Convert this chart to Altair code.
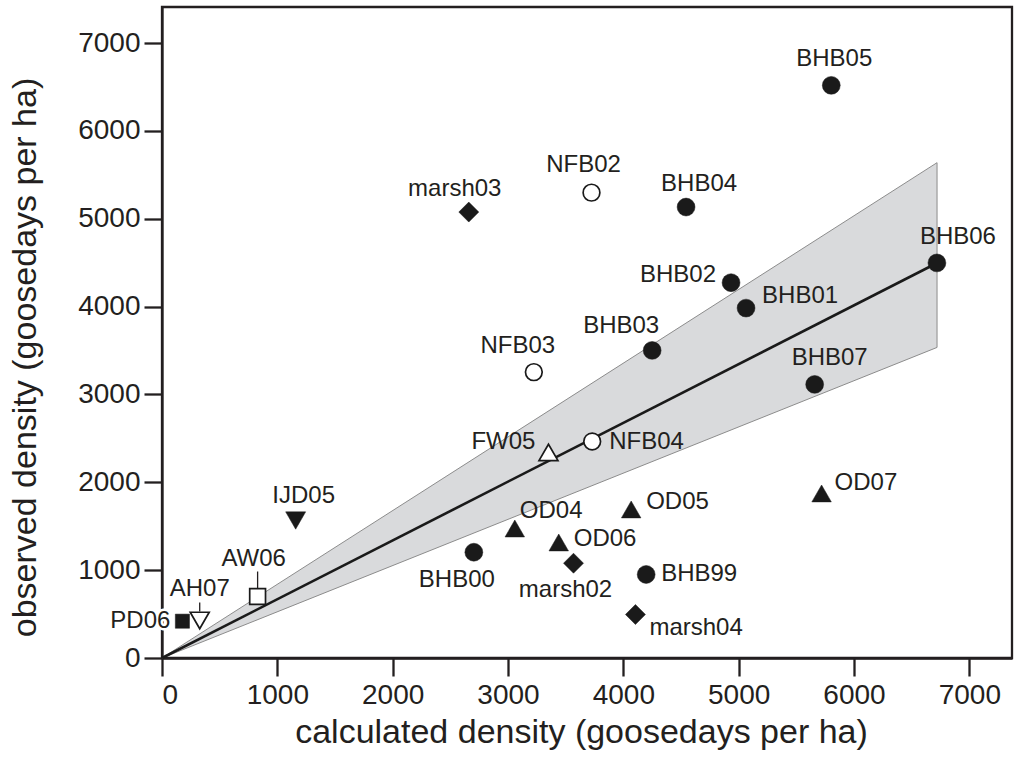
import altair as alt
import pandas as pd

# Sites: calculated vs observed goose grazing density (goosedays per ha)
sites = ["BHB99", "BHB00", "BHB01", "BHB02", "BHB03", "BHB04", "BHB05", "BHB06", "BHB07",
         "NFB02", "NFB03", "NFB04",
         "marsh02", "marsh03", "marsh04",
         "OD04", "OD05", "OD06", "OD07",
         "FW05", "IJD05", "AW06", "AH07", "PD06"]
groups = ["BHB"] * 9 + ["NFB"] * 3 + ["marsh"] * 3 + ["OD"] * 4 + ["FW", "IJD", "AW", "AH", "PD"]
calculated = [4198, 2704, 5064, 4934, 4250, 4544, 5803, 6719, 5659,
              3724, 3224, 3730,
              3568, 2660, 4105,
              3059, 4068, 3440, 5719,
              3351, 1159, 829, 327, 177]
observed = [951, 1204, 3983, 4272, 3501, 5133, 6518, 4497, 3114,
            5297, 3254, 2465,
            1079, 5076, 495,
            1474, 1691, 1315, 1873,
            2340, 1565, 700, 427, 419]

# Regression through the origin with its confidence band
fit_x = [0, 6720]
fit_y = [0, 4496]
band_lo = [0, 3535]
band_hi = [0, 5638]

tick_values = [0, 1000, 2000, 3000, 4000, 5000, 6000, 7000]

pts = pd.DataFrame({"site": sites, "group": groups, "calc": calculated, "obs": observed})
fit = pd.DataFrame({"calc": fit_x, "obs": fit_y, "lo": band_lo, "hi": band_hi})

INK = "#231f20"
FONT = "Liberation Sans"

xs = alt.Scale(domain=[0, 7370], nice=False, zero=True)
ys = alt.Scale(domain=[0, 7410], nice=False, zero=True)

X = alt.X("calc:Q", scale=xs, title="calculated density (goosedays per ha)",
          axis=alt.Axis(values=tick_values, format="d",
                        labelPadding=5, titleX=419, titleY=74,
                        titleBaseline="middle", titleAlign="center"))
Y = alt.Y("obs:Q", scale=ys, title="observed density (goosedays per ha)",
          axis=alt.Axis(values=tick_values, format="d",
                        labelPadding=4, titleX=-137, titleY=350, titleAngle=270,
                        titleBaseline="middle", titleAlign="center"))

band = alt.Chart(fit).mark_area(color="#d9dadc", stroke="#8c8c8c", strokeWidth=1).encode(
    x=X, y=alt.Y("lo:Q", scale=ys), y2="hi:Q")
line = alt.Chart(fit).mark_line(color="#1a1a1a", strokeWidth=2.6).encode(x=X, y=Y)

# marker style per site group: shape, filled, size
styles = {
    "BHB": ("circle", True, 320),
    "NFB": ("circle", False, 280),
    "marsh": ("diamond", True, 400),
    "OD": ("triangle-up", True, 380),
    "FW": ("triangle-up", False, 360),
    "IJD": ("triangle-down", True, 400),
    "AW": ("square", False, 250),
    "AH": ("triangle-down", False, 360),
    "PD": ("square", True, 200),
}

layers = [band, line]

# leader ticks from label to marker
for name, off1, off2 in [("AW06", -8, -25), ("AH07", -9, -18)]:
    layers.append(
        alt.Chart(pts).transform_filter(alt.datum.site == name)
        .mark_rule(color=INK, strokeWidth=1.3, yOffset=off1, y2Offset=off2)
        .encode(x=X, y=Y, y2="obs:Q"))

for g, (shape, filled, size) in styles.items():
    if filled:
        mk = alt.Chart(pts).mark_point(shape=shape, filled=True, size=size, fill="#1a1a1a",
                                       stroke="#1a1a1a", strokeWidth=0.5, opacity=1)
    else:
        mk = alt.Chart(pts).mark_point(shape=shape, filled=False, size=size, fill="white",
                                       fillOpacity=1, stroke="#1a1a1a", strokeWidth=1.7, opacity=1)
    layers.append(mk.transform_filter(alt.datum.group == g).encode(x=X, y=Y))

# label placement: align, dx, dy (pixels)
label_pos = {
    "BHB05": ("center", 3, -26), "BHB04": ("center", 13, -23), "NFB02": ("center", -8, -28),
    "marsh03": ("center", -14, -23), "BHB06": ("center", 21, -26), "BHB02": ("right", -15, -8),
    "BHB01": ("left", 16, -12), "BHB03": ("center", -31, -24), "NFB03": ("center", -16, -26),
    "BHB07": ("center", 15, -26), "NFB04": ("left", 17, 1), "FW05": ("right", -13, -10),
    "OD07": ("left", 13, -10), "OD05": ("left", 15, -7), "OD04": ("left", 5, -18),
    "OD06": ("left", 15, -3), "marsh02": ("center", -8, 27), "BHB99": ("left", 15, 0),
    "marsh04": ("left", 14, 13), "BHB00": ("center", -17, 28), "IJD05": ("center", 8, -25),
    "AW06": ("center", -4, -38), "AH07": ("center", 0, -31), "PD06": ("right", -12, 0),
}

for name, (align, dx, dy) in label_pos.items():
    base = alt.Chart(pts).transform_filter(alt.datum.site == name)
    if name == "PD06":
        layers.append(base.mark_text(align=align, baseline="middle", dx=dx, dy=dy, font=FONT,
                                     fontSize=24, color="white", stroke="white", strokeWidth=5)
                      .encode(x=X, y=Y, text="site:N"))
    layers.append(base.mark_text(align=align, baseline="middle", dx=dx, dy=dy, font=FONT,
                                 fontSize=24, color=INK)
                  .encode(x=X, y=Y, text="site:N"))

chart = (
    alt.layer(*layers)
    .properties(width=850, height=651, autosize="none",
                padding={"left": 162, "top": 7, "right": 3, "bottom": 115},
                background="white")
    .configure_view(stroke=INK, strokeWidth=2.3)
    .configure_axis(grid=False, domainColor=INK, domainWidth=2.3, tickColor=INK, tickWidth=2.3,
                    tickSize=18, labelFont=FONT, labelFontSize=28, labelColor=INK,
                    titleFont=FONT, titleFontSize=34, titleFontWeight="normal", titleColor=INK)
)

chart.save("out.html", embed_options={"renderer": "svg", "actions": False})
